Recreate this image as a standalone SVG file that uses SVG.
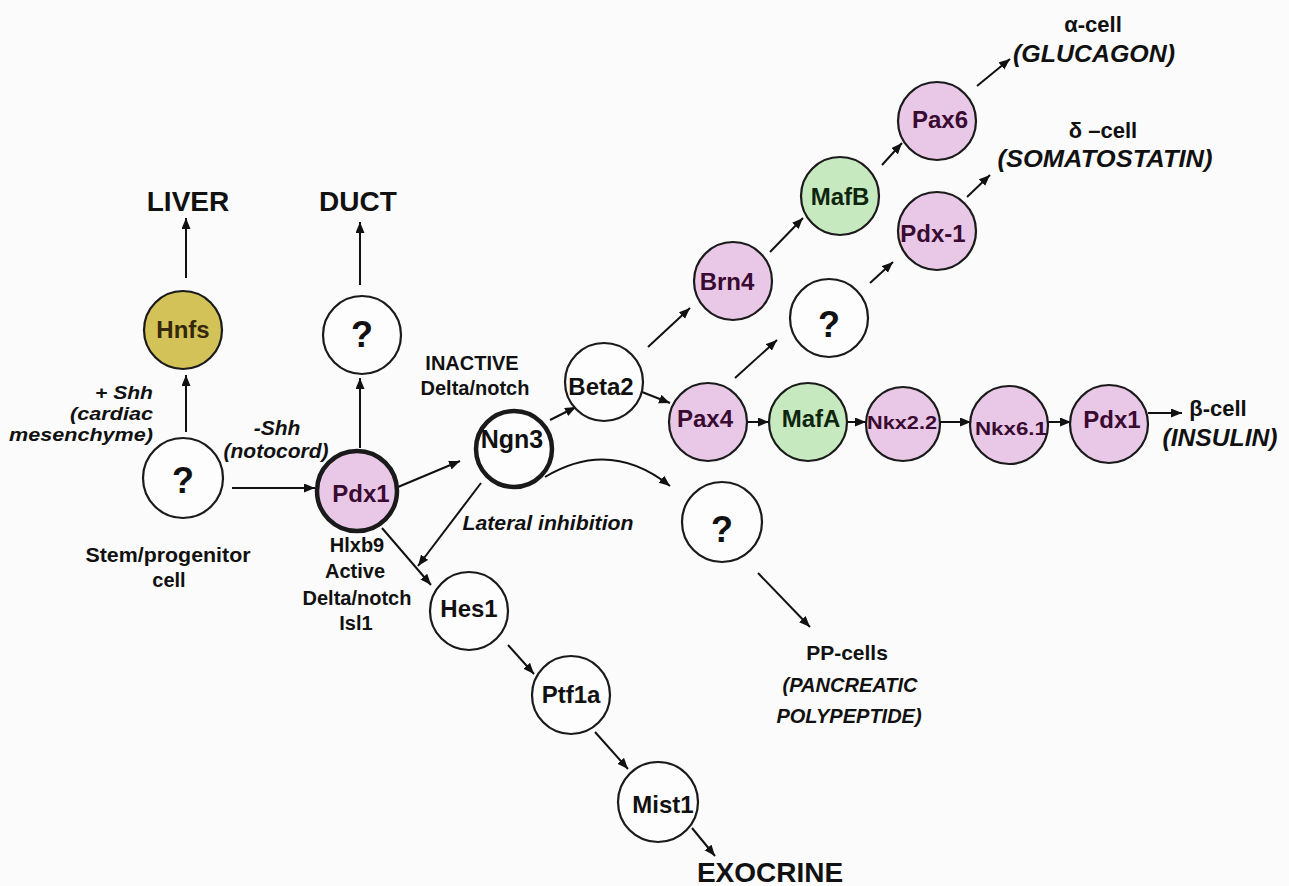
<svg xmlns="http://www.w3.org/2000/svg" width="1289" height="886" viewBox="0 0 1289 886">
<defs>
<marker id="ah" markerUnits="userSpaceOnUse" markerWidth="12" markerHeight="10" refX="11" refY="4.5" orient="auto">
<path d="M0,0 L11,4.5 L0,9 z" fill="#111"/>
</marker>
<style>
.n{stroke:#1a1a1a;stroke-width:2.2}
.w{fill:#fdfdfd}
.pk{fill:#e8c8e6}
.gr{fill:#c6e9c0}
.gd{fill:#d3c258}
.thick{stroke-width:4.5}
.t{font-family:"Liberation Sans",Arial,sans-serif;font-weight:bold;text-anchor:middle;fill:#111}
.tp{fill:#3a0b32}
.tg{fill:#0d240d}
.th{fill:#33280a}
.q{font-size:36px}
.lab{font-size:24px}
.big{font-size:28px}
.b{font-size:20px}
.i{font-style:italic}
.c line,.c path{stroke:#111;stroke-width:2;fill:none;marker-end:url(#ah)}
</style>
</defs>
<rect width="1289" height="886" fill="#fbfbfb"/>

<g id="connectors" class="c">
<line x1="186" y1="278" x2="186" y2="218"/>
<line x1="186" y1="432" x2="186" y2="375"/>
<line x1="360" y1="285" x2="360" y2="222"/>
<line x1="360" y1="448" x2="360" y2="378"/>
<line x1="232" y1="488" x2="315" y2="488"/>
<line x1="398" y1="487" x2="460" y2="461"/>
<line x1="382" y1="528" x2="431" y2="585"/>
<line x1="481" y1="483" x2="418" y2="566"/>
<line x1="550" y1="420" x2="576" y2="407"/>
<path d="M545,477 Q610,438 670,486"/>
<line x1="642" y1="392" x2="670" y2="403"/>
<line x1="648" y1="347" x2="690" y2="308"/>
<line x1="770" y1="252" x2="803" y2="218"/>
<line x1="882" y1="165" x2="902" y2="143"/>
<line x1="977" y1="86" x2="1010" y2="59"/>
<line x1="735" y1="378" x2="777" y2="340"/>
<line x1="870" y1="283" x2="893" y2="262"/>
<line x1="967" y1="197" x2="990" y2="175"/>
<line x1="747" y1="422" x2="769" y2="422"/>
<line x1="847" y1="422" x2="866" y2="422"/>
<line x1="939" y1="422" x2="971" y2="422"/>
<line x1="1048" y1="422" x2="1071" y2="422"/>
<line x1="1148" y1="413" x2="1182" y2="413"/>
<line x1="758" y1="573" x2="810" y2="627"/>
<line x1="508" y1="645" x2="534" y2="674"/>
<line x1="595" y1="732" x2="628" y2="769"/>
<line x1="692" y1="828" x2="715" y2="856"/>
</g>

<g id="stem">
<circle class="n w" cx="183" cy="478" r="40"/>
<text class="t q" x="183" y="493">?</text>
</g>
<g id="hnfs">
<circle class="n gd" cx="183" cy="330" r="39"/>
<text class="t lab th" x="183" y="338">Hnfs</text>
</g>
<g id="duct-q">
<circle class="n w" cx="362" cy="335" r="39"/>
<text class="t q" x="362" y="347">?</text>
</g>
<g id="pdx1-a">
<circle class="n pk thick" cx="357" cy="491" r="40"/>
<text class="t lab tp" x="361" y="502">Pdx1</text>
</g>
<g id="ngn3">
<circle class="n w thick" cx="514" cy="449" r="38"/>
<text class="t" font-size="25" x="512" y="448">Ngn3</text>
</g>
<g id="beta2">
<circle class="n w" cx="604" cy="382" r="39"/>
<text class="t lab" x="601" y="395">Beta2</text>
</g>
<g id="pax4">
<circle class="n pk" cx="708" cy="422" r="39"/>
<text class="t lab tp" x="705" y="427">Pax4</text>
</g>
<g id="mafa">
<circle class="n gr" cx="808" cy="422" r="39"/>
<text class="t lab tg" x="811" y="427">MafA</text>
</g>
<g id="nkx22">
<circle class="n pk" cx="903" cy="424" r="37"/>
<text class="t tp" font-size="19" x="902" y="429" textLength="70" lengthAdjust="spacingAndGlyphs">Nkx2.2</text>
</g>
<g id="nkx61">
<circle class="n pk" cx="1009" cy="425" r="39"/>
<text class="t tp" font-size="19" x="1011" y="435" textLength="72" lengthAdjust="spacingAndGlyphs">Nkx6.1</text>
</g>
<g id="pdx1-b">
<circle class="n pk" cx="1109" cy="424" r="39"/>
<text class="t lab tp" x="1112" y="428">Pdx1</text>
</g>
<g id="brn4">
<circle class="n pk" cx="733" cy="281" r="39"/>
<text class="t lab tp" x="727" y="290">Brn4</text>
</g>
<g id="mafb">
<circle class="n gr" cx="840" cy="196" r="39"/>
<text class="t lab tg" x="840" y="205">MafB</text>
</g>
<g id="pax6">
<circle class="n pk" cx="937" cy="121" r="39"/>
<text class="t lab tp" x="940" y="128">Pax6</text>
</g>
<g id="pdx-1">
<circle class="n pk" cx="937" cy="231" r="39"/>
<text class="t lab tp" x="933" y="242">Pdx-1</text>
</g>
<g id="mid-q">
<circle class="n w" cx="829" cy="318" r="39"/>
<text class="t q" x="829" y="337">?</text>
</g>
<g id="pp-q">
<circle class="n w" cx="722" cy="522" r="40"/>
<text class="t q" x="722" y="542">?</text>
</g>
<g id="hes1">
<circle class="n w" cx="469" cy="611" r="39"/>
<text class="t lab" x="469" y="617">Hes1</text>
</g>
<g id="ptf1a">
<circle class="n w" cx="571" cy="695" r="39"/>
<text class="t lab" x="571" y="703">Ptf1a</text>
</g>
<g id="mist1">
<circle class="n w" cx="658" cy="802" r="40"/>
<text class="t lab" x="663" y="813">Mist1</text>
</g>

<g id="labels">
<text class="t big" x="188" y="211">LIVER</text>
<text class="t big" x="358" y="211">DUCT</text>
<text class="t i" font-size="19" style="text-anchor:end" x="153" y="399" textLength="58" lengthAdjust="spacingAndGlyphs">+ Shh</text>
<text class="t i" font-size="19" style="text-anchor:end" x="153" y="420" textLength="83" lengthAdjust="spacingAndGlyphs">(cardiac</text>
<text class="t i" font-size="19" style="text-anchor:end" x="153" y="441" textLength="144" lengthAdjust="spacingAndGlyphs">mesenchyme)</text>
<text class="t i" font-size="21" x="277" y="435">-Shh</text>
<text class="t i" font-size="21" x="276" y="458" textLength="105" lengthAdjust="spacingAndGlyphs">(notocord)</text>
<text class="t b" x="168" y="562" textLength="165" lengthAdjust="spacingAndGlyphs">Stem/progenitor</text>
<text class="t b" x="169" y="587">cell</text>
<text class="t b" x="357" y="552">Hlxb9</text>
<text class="t b" x="355" y="578">Active</text>
<text class="t b" x="357" y="605">Delta/notch</text>
<text class="t b" x="356" y="630">Isl1</text>
<text class="t b" x="472" y="370">INACTIVE</text>
<text class="t b" x="475" y="395">Delta/notch</text>
<text class="t b i" x="548" y="530" textLength="171" lengthAdjust="spacingAndGlyphs">Lateral inhibition</text>
<text class="t" font-size="22" x="1093" y="32">α-cell</text>
<text class="t i" font-size="23" x="1094" y="62" textLength="162" lengthAdjust="spacingAndGlyphs">(GLUCAGON)</text>
<text class="t" font-size="22" x="1103" y="138">δ –cell</text>
<text class="t i" font-size="23" x="1105" y="167" textLength="215" lengthAdjust="spacingAndGlyphs">(SOMATOSTATIN)</text>
<text class="t" font-size="22" x="1218" y="416">β-cell</text>
<text class="t i" font-size="23" x="1220" y="446" textLength="115" lengthAdjust="spacingAndGlyphs">(INSULIN)</text>
<text class="t" font-size="21" x="847" y="660">PP-cells</text>
<text class="t i" font-size="20" x="850" y="692">(PANCREATIC</text>
<text class="t i" font-size="20" x="849" y="723">POLYPEPTIDE)</text>
<text class="t" font-size="28" x="770" y="882">EXOCRINE</text>
</g>
</svg>
